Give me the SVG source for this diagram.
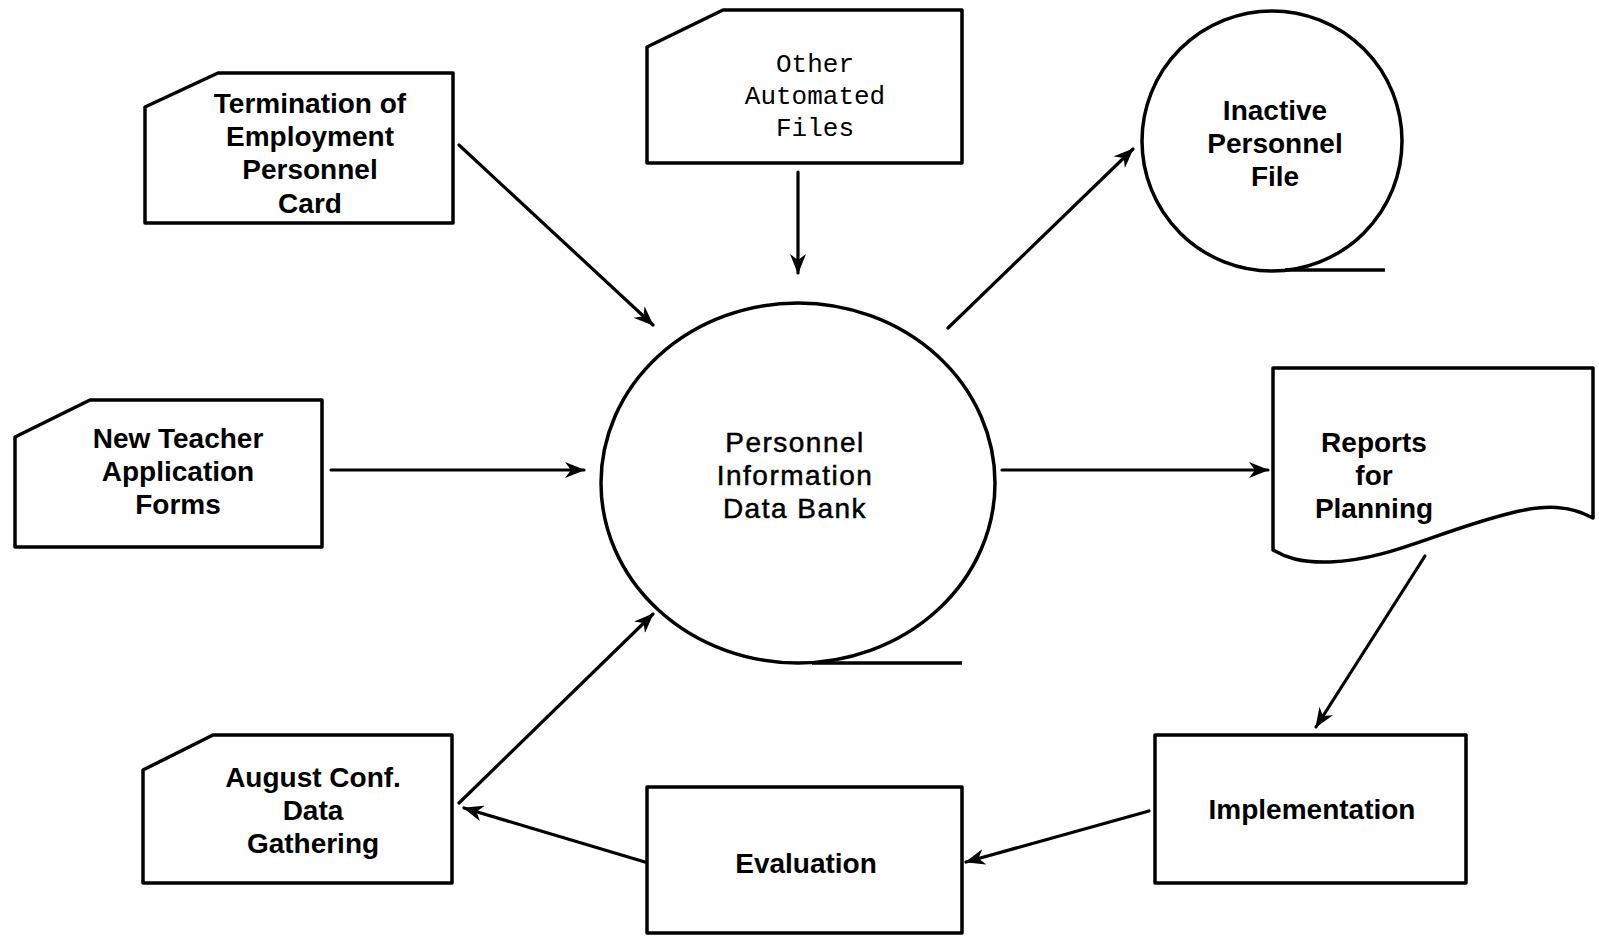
<svg xmlns="http://www.w3.org/2000/svg" width="1599" height="938" viewBox="0 0 1599 938">
<style>
.shape{fill:none;stroke:#000;stroke-width:3.5;stroke-linejoin:round}
.conn{fill:none;stroke:#000;stroke-width:3.2;stroke-linecap:round}
.lb{font-family:"Liberation Sans",Arial,sans-serif;font-weight:bold;font-size:28px;text-anchor:middle;fill:#000}
.lm{font-family:"Liberation Sans",Arial,sans-serif;font-size:28px;letter-spacing:1.5px;text-anchor:middle;fill:#000;stroke:#000;stroke-width:0.5}
.mono{font-family:"Liberation Mono","Courier New",monospace;font-size:26px;text-anchor:middle;fill:#000}
</style>
<defs>
<marker id="ah" markerUnits="userSpaceOnUse" markerWidth="20" markerHeight="16" refX="19" refY="8" orient="auto">
<path d="M0,0 L20,8 L0,16 L6,8 z" fill="#000"/>
</marker>
</defs>
<rect width="1599" height="938" fill="#fff"/>
<g id="termination">
<path class="shape" d="M145,107 L218,73 L453,73 L453,223 L145,223 Z"/>
<text class="lb" x="310" y="113">Termination of</text>
<text class="lb" x="310" y="146">Employment</text>
<text class="lb" x="310" y="179">Personnel</text>
<text class="lb" x="310" y="213">Card</text>
</g>
<g id="other-files">
<path class="shape" d="M647,47 L723,10 L962,10 L962,163 L647,163 Z"/>
<text class="mono" x="815" y="72">Other</text>
<text class="mono" x="815" y="104">Automated</text>
<text class="mono" x="815" y="136">Files</text>
</g>
<g id="inactive">
<circle class="shape" cx="1272" cy="141" r="130"/>
<line class="shape" x1="1285" y1="270" x2="1385" y2="270"/>
<text class="lb" x="1275" y="120">Inactive</text>
<text class="lb" x="1275" y="153">Personnel</text>
<text class="lb" x="1275" y="186">File</text>
</g>
<g id="new-teacher">
<path class="shape" d="M15,437 L90,400 L322,400 L322,547 L15,547 Z"/>
<text class="lb" x="178" y="448">New Teacher</text>
<text class="lb" x="178" y="481">Application</text>
<text class="lb" x="178" y="514">Forms</text>
</g>
<g id="databank">
<ellipse class="shape" cx="798" cy="483" rx="197" ry="180"/>
<line class="shape" x1="812" y1="663" x2="962" y2="663"/>
<text class="lm" x="795" y="452">Personnel</text>
<text class="lm" x="795" y="485">Information</text>
<text class="lm" x="795" y="518">Data Bank</text>
</g>
<g id="reports">
<path class="shape" d="M1273,368 L1593,368 L1593,518 C1570,505 1545,505 1515,512 C1440,530 1390,560 1330,562 C1300,563 1285,557 1273,550 Z"/>
<text class="lb" x="1374" y="452">Reports</text>
<text class="lb" x="1374" y="485">for</text>
<text class="lb" x="1374" y="518">Planning</text>
</g>
<g id="august">
<path class="shape" d="M143,770 L213,735 L452,735 L452,883 L143,883 Z"/>
<text class="lb" x="313" y="787">August Conf.</text>
<text class="lb" x="313" y="820">Data</text>
<text class="lb" x="313" y="853">Gathering</text>
</g>
<g id="evaluation">
<rect class="shape" x="647" y="787" width="315" height="146"/>
<text class="lb" x="806" y="873">Evaluation</text>
</g>
<g id="implementation">
<rect class="shape" x="1155" y="735" width="311" height="148"/>
<text class="lb" x="1312" y="819">Implementation</text>
</g>
<g id="connectors">
<line class="conn" x1="459" y1="145" x2="653" y2="325" marker-end="url(#ah)"/>
<line class="conn" x1="798" y1="172" x2="798" y2="273" marker-end="url(#ah)"/>
<line class="conn" x1="948" y1="328" x2="1133" y2="149" marker-end="url(#ah)"/>
<line class="conn" x1="331" y1="470" x2="584" y2="470" marker-end="url(#ah)"/>
<line class="conn" x1="1002" y1="470" x2="1268" y2="470" marker-end="url(#ah)"/>
<line class="conn" x1="1425" y1="556" x2="1316" y2="727" marker-end="url(#ah)"/>
<line class="conn" x1="1149" y1="811" x2="966" y2="862" marker-end="url(#ah)"/>
<line class="conn" x1="645" y1="862" x2="464" y2="808" marker-end="url(#ah)"/>
<line class="conn" x1="459" y1="803" x2="653" y2="614" marker-end="url(#ah)"/>
</g>
</svg>
